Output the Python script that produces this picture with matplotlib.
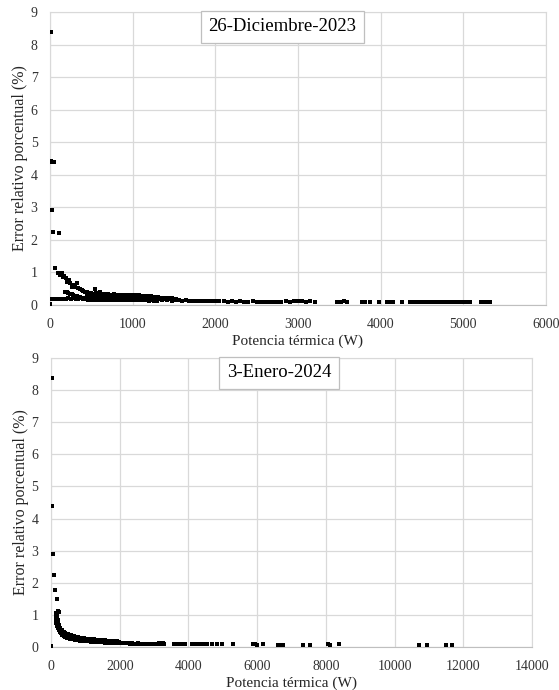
import matplotlib
matplotlib.use("Agg")
import matplotlib.pyplot as plt

plt.rcParams['font.family'] = ['Liberation Serif', 'DejaVu Serif']

# ---- 26-Diciembre-2023 ----
dic_out_x = [0, 8, 16, 10, 28, 45, 8, 18, 28, 36, 110]
dic_out_y = [0.02, 8.38, 8.38, 4.42, 4.40, 4.40, 2.91, 2.91, 2.91, 2.24, 2.22]

dic_low_x = [20, 45, 70, 95, 125, 155, 190, 220, 250, 280, 310, 340, 370, 400]
dic_low_y = [0.17, 0.18, 0.17, 0.19, 0.18, 0.19, 0.18, 0.20, 0.19, 0.20, 0.18, 0.19, 0.20, 0.19]

dic_up_x = [60, 93, 121, 149, 161, 175, 190, 209, 225, 242, 263, 285,
            305, 323, 343, 365, 384, 405, 424, 445, 470, 500, 545, 605]
dic_up_y = [1.13, 0.99, 0.92, 0.97, 0.87, 0.90, 0.82, 0.71, 0.76, 0.67, 0.56, 0.60,
            0.55, 0.67, 0.51, 0.50, 0.46, 0.44, 0.41, 0.40, 0.38, 0.36, 0.48, 0.41]

dic_mid_x = [182, 200, 222, 245, 265, 282, 303, 323, 343, 365, 390, 420]
dic_mid_y = [0.41, 0.40, 0.36, 0.33, 0.35, 0.31, 0.21, 0.28, 0.26, 0.24, 0.22, 0.21]

dic_band_x = [
    450, 460, 470, 480, 490, 500, 510, 520, 530, 540,
    550, 560, 570, 580, 590, 600, 615, 630, 645, 660,
    675, 690, 705, 720, 735, 750, 765, 780, 795, 810,
    825, 840, 855, 870, 885, 900, 915, 930, 945, 960,
    975, 990, 1005, 1020, 1035, 1050, 1065, 1080, 1095, 1110,
    1125, 1140, 1160, 1180, 1200, 1220, 1240, 1260, 1280, 1300]
dic_band_hi = [
    0.36, 0.33, 0.35, 0.31, 0.34, 0.37, 0.32, 0.35, 0.30, 0.34,
    0.33, 0.36, 0.31, 0.34, 0.32, 0.35, 0.30, 0.33, 0.31, 0.34,
    0.29, 0.32, 0.33, 0.30, 0.32, 0.29, 0.31, 0.33, 0.30, 0.32,
    0.28, 0.31, 0.30, 0.32, 0.29, 0.31, 0.28, 0.30, 0.32, 0.29,
    0.31, 0.28, 0.30, 0.29, 0.31, 0.27, 0.29, 0.30, 0.28, 0.27,
    0.29, 0.26, 0.28, 0.27, 0.25, 0.27, 0.26, 0.24, 0.25, 0.23]
dic_band_mid = [
    0.27, 0.25, 0.28, 0.24, 0.26, 0.27, 0.25, 0.26, 0.24, 0.27,
    0.25, 0.26, 0.24, 0.25, 0.26, 0.24, 0.25, 0.23, 0.25, 0.24,
    0.23, 0.25, 0.24, 0.22, 0.24, 0.23, 0.24, 0.22, 0.23, 0.24,
    0.22, 0.23, 0.24, 0.22, 0.23, 0.21, 0.23, 0.22, 0.24, 0.22,
    0.23, 0.21, 0.22, 0.23, 0.21, 0.22, 0.20, 0.22, 0.21, 0.20,
    0.21, 0.20, 0.21, 0.19, 0.20, 0.19, 0.20, 0.18, 0.19, 0.18]
dic_band_lo = [
    0.18, 0.16, 0.19, 0.17, 0.18, 0.16, 0.19, 0.17, 0.18, 0.16,
    0.17, 0.19, 0.16, 0.18, 0.17, 0.16, 0.18, 0.17, 0.16, 0.18,
    0.17, 0.15, 0.17, 0.16, 0.18, 0.16, 0.17, 0.15, 0.17, 0.16,
    0.15, 0.17, 0.16, 0.15, 0.17, 0.16, 0.15, 0.16, 0.17, 0.15,
    0.16, 0.15, 0.16, 0.14, 0.16, 0.15, 0.14, 0.16, 0.15, 0.14,
    0.15, 0.14, 0.15, 0.14, 0.13, 0.15, 0.14, 0.13, 0.14, 0.13]

dic_band2_x = [1310, 1330, 1350, 1370, 1390, 1410, 1430, 1450, 1470, 1490, 1510, 1530]
dic_band2_y = [0.24, 0.22, 0.23, 0.21, 0.22, 0.20, 0.21, 0.19, 0.20, 0.18, 0.19, 0.17]

dic_tail_x = [
    1320, 1350, 1380, 1410, 1440, 1470, 1500, 1530, 1560, 1600,
    1640, 1680, 1720, 1760, 1800, 1850, 1900, 1950, 2000, 2050,
    2100, 2150, 2200, 2250, 2300, 2350, 2400, 2450, 2500, 2550,
    2600, 2650, 2700, 2750, 2800, 2850, 2900, 2950, 3000, 3050,
    3100, 3150, 3200]
dic_tail_y = [
    0.19, 0.15, 0.18, 0.14, 0.17, 0.13, 0.16, 0.14, 0.15, 0.13,
    0.14, 0.12, 0.13, 0.12, 0.13, 0.11, 0.12, 0.11, 0.12, 0.11,
    0.11, 0.10, 0.11, 0.10, 0.11, 0.10, 0.10, 0.11, 0.10, 0.10,
    0.09, 0.10, 0.10, 0.09, 0.10, 0.11, 0.10, 0.12, 0.11, 0.13,
    0.10, 0.12, 0.09]

dic_far_x = [
    3471, 3519, 3560, 3592, 3773, 3814, 3874, 3975, 4080, 4110,
    4145, 4258, 4360, 4400, 4440, 4480, 4520, 4560, 4600, 4640,
    4680, 4720, 4760, 4800, 4840, 4880, 4920, 4960, 5000, 5040,
    5080, 5210, 5250, 5290, 5325]
dic_far_y = [
    0.10, 0.09, 0.11, 0.08, 0.09, 0.08, 0.10, 0.09, 0.08, 0.09,
    0.08, 0.09, 0.08, 0.08, 0.09, 0.08, 0.08, 0.08, 0.09, 0.08,
    0.08, 0.08, 0.09, 0.08, 0.08, 0.08, 0.08, 0.09, 0.08, 0.08,
    0.08, 0.09, 0.08, 0.09, 0.08]

# ---- 3-Enero-2024 ----
ene_out_x = [0, 20, 38, 50, 87, 116, 166, 190, 215, 235]
ene_out_y = [0.02, 8.38, 4.40, 2.90, 2.23, 1.78, 1.50, 1.12, 1.12, 1.10]

ene_head_x = [150, 155, 160, 165, 170, 175, 180, 185, 190, 195,
              200, 205, 210, 215, 220, 225, 230, 240, 250, 260,
              270, 280, 290, 300]
ene_head_hi = [1.05, 1.00, 0.98, 0.95, 0.92, 0.90, 0.88, 0.85, 0.83, 0.80,
               0.78, 0.76, 0.74, 0.72, 0.70, 0.68, 0.66, 0.63, 0.60, 0.58,
               0.56, 0.54, 0.52, 0.50]
ene_head_lo = [0.85, 0.80, 0.76, 0.74, 0.72, 0.70, 0.68, 0.66, 0.65, 0.63,
               0.62, 0.61, 0.60, 0.58, 0.57, 0.56, 0.55, 0.53, 0.51, 0.50,
               0.48, 0.47, 0.46, 0.44]

ene_body_x = [
    310, 330, 350, 370, 390, 410, 430, 450, 470, 490,
    510, 540, 570, 600, 630, 660, 690, 720, 750, 780,
    810, 850, 890, 930, 970, 1010, 1050, 1100, 1150, 1200,
    1250, 1300, 1350, 1400, 1450, 1500, 1560, 1620, 1680, 1740,
    1800, 1860, 1920, 1980]
ene_body_hi = [
    0.52, 0.50, 0.47, 0.46, 0.44, 0.43, 0.42, 0.41, 0.40, 0.39,
    0.38, 0.37, 0.36, 0.35, 0.34, 0.33, 0.32, 0.31, 0.31, 0.30,
    0.29, 0.29, 0.28, 0.27, 0.27, 0.26, 0.26, 0.25, 0.25, 0.24,
    0.24, 0.23, 0.23, 0.22, 0.22, 0.21, 0.21, 0.20, 0.20, 0.19,
    0.19, 0.18, 0.18, 0.17]
ene_body_lo = [
    0.40, 0.38, 0.36, 0.35, 0.33, 0.32, 0.31, 0.30, 0.29, 0.28,
    0.27, 0.26, 0.26, 0.25, 0.24, 0.24, 0.23, 0.22, 0.22, 0.21,
    0.21, 0.20, 0.20, 0.19, 0.19, 0.18, 0.18, 0.18, 0.17, 0.17,
    0.16, 0.16, 0.16, 0.15, 0.15, 0.15, 0.14, 0.14, 0.14, 0.13,
    0.13, 0.13, 0.12, 0.12]

ene_tail_x = [2030, 2080, 2130, 2180, 2240, 2300, 2360, 2420, 2480, 2540,
              2600, 2660, 2720, 2780, 2840, 2900, 2960, 3020, 3080, 3140,
              3200, 3260, 3300]
ene_tail_y = [0.13, 0.12, 0.11, 0.12, 0.11, 0.10, 0.11, 0.10, 0.10, 0.11,
              0.10, 0.09, 0.10, 0.10, 0.09, 0.10, 0.09, 0.10, 0.09, 0.11,
              0.10, 0.12, 0.10]

ene_far_x = [
    3580, 3640, 3700, 3804, 3850, 3900, 4100, 4150, 4200, 4260,
    4320, 4380, 4430, 4480, 4532, 4678, 4823, 4969, 5289, 5880,
    5930, 6000, 6171, 6608, 6680, 6754, 7336, 7540, 8063, 8122,
    8384, 10721, 10935, 11497, 11664]
ene_far_y = [
    0.08, 0.09, 0.10, 0.09, 0.08, 0.10, 0.08, 0.09, 0.10, 0.09,
    0.08, 0.09, 0.08, 0.08, 0.09, 0.08, 0.08, 0.08, 0.08, 0.08,
    0.09, 0.07, 0.08, 0.07, 0.07, 0.07, 0.07, 0.07, 0.08, 0.07,
    0.08, 0.06, 0.06, 0.06, 0.06]

dic_x = (dic_out_x + dic_low_x + dic_up_x + dic_mid_x + dic_band_x * 3
         + dic_band2_x + dic_tail_x + dic_far_x)
dic_y = (dic_out_y + dic_low_y + dic_up_y + dic_mid_y + dic_band_hi + dic_band_mid
         + dic_band_lo + dic_band2_y + dic_tail_y + dic_far_y)
ene_x = (ene_out_x + ene_head_x * 2 + ene_body_x * 2 + ene_tail_x + ene_far_x)
ene_y = (ene_out_y + ene_head_hi + ene_head_lo + ene_body_hi + ene_body_lo
         + ene_tail_y + ene_far_y)

fig = plt.figure(figsize=(5.59, 6.90), dpi=100)
ax1 = fig.add_axes([50 / 559, 385 / 690, 496 / 559, 293 / 690])
ax2 = fig.add_axes([51 / 559, 43 / 690, 481 / 559, 289 / 690])

panels = [
    (ax1, dic_x, dic_y, 6000, 1000, '26-Diciembre-2023', 0.468),
    (ax2, ene_x, ene_y, 14000, 2000, '3-Enero-2024', 0.474),
]

for ax, xs, ys, xmax, step, title, tx in panels:
    ax.plot(xs, ys, 's', ms=2.3, color='black', mew=0, zorder=3)
    ax.set_xlim(0, xmax)
    ax.set_ylim(0, 9)
    ax.set_xticks(range(0, xmax + 1, step))
    ax.set_yticks(range(0, 10))
    ax.grid(True, color='#d9d9d9', linewidth=0.9)
    ax.set_axisbelow(True)
    for s in ax.spines.values():
        s.set_color('#d9d9d9')
    ax.spines['bottom'].set_color('#bfbfbf')
    ax.tick_params(length=0, labelsize=10, pad=9, labelcolor='#333333')
    ax.set_xlabel('Potencia térmica (W)', fontsize=11, labelpad=3, color='#262626')
    ax.set_ylabel('Error relativo porcentual (%)', fontsize=11.5, labelpad=2, color='#262626')
    ax.text(tx, 0.949, title, transform=ax.transAxes, ha='center', va='center',
            fontsize=13.5, color='black', zorder=5,
            bbox=dict(boxstyle='square,pad=0.4', fc='white', ec='#bfbfbf', lw=0.9))

fig.savefig('out.png', dpi=100)
